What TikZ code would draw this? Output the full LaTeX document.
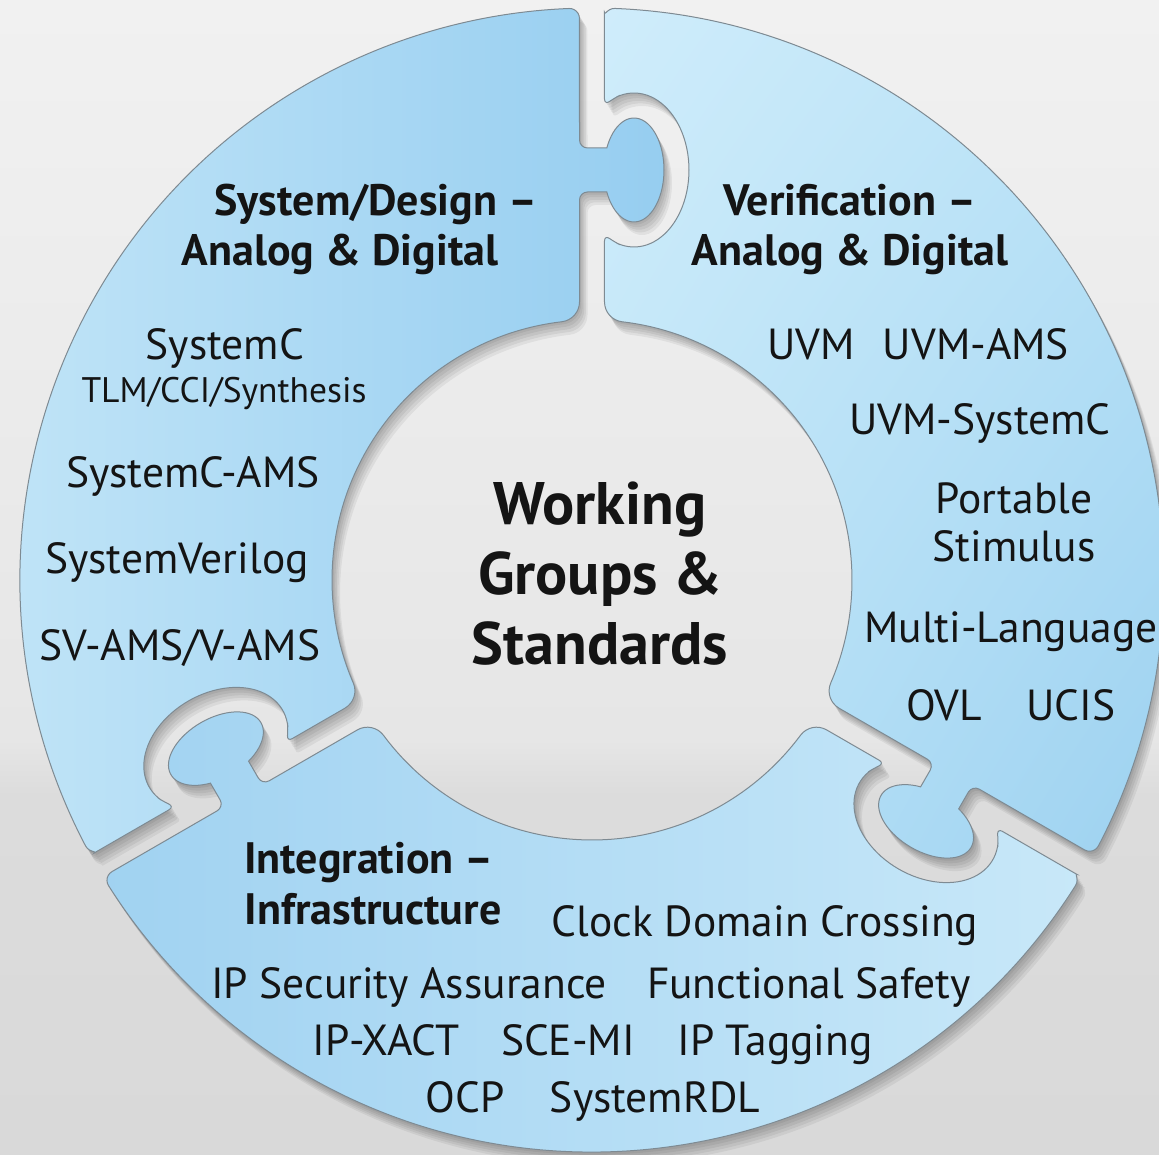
\documentclass[tikz,border=0pt]{standalone}
\usepackage{fontspec}
\setmainfont{PT Sans}
\usetikzlibrary{shadings}
\definecolor{bgA}{HTML}{F1F1F1}
\definecolor{bgB}{HTML}{E6E6E6}
\definecolor{bgC}{HTML}{DCDCDC}
\definecolor{bgD}{HTML}{D9D9D9}
\definecolor{edgeGray}{HTML}{7E8A92}
\definecolor{inkText}{HTML}{141414}
\definecolor{sdLight}{HTML}{C0E4F7}
\definecolor{sdDark}{HTML}{95CDF0}
\definecolor{veLight}{HTML}{D0EDFB}
\definecolor{veMid}{HTML}{BBE3F7}
\definecolor{veDark}{HTML}{9CD1F0}
\definecolor{inDark}{HTML}{A0D2F1}
\definecolor{inLight}{HTML}{CAE9F9}
\newcommand{\piecepath}{(12.5,278.11) [rounded corners=6] -- (12.5,345.0) -- (22.79,337.84) [sharp corners]
 -- plot[domain=251.56:468.44,samples=55] ({42+55*cos(\x)},{410+77*sin(\x)})
 [rounded corners=6] -- (22.79,482.16) -- (12.5,475.0) -- (12.5,561.55) [sharp corners] arc[start angle=180,end angle=87.706,radius=10]
 arc[start angle=87.706,end angle=-27.706,radius=572]
 arc[start angle=-27.706,end angle=-120,radius=10]
 -- (387.30,-209.18) arc[start angle=60,end angle=150,radius=8]
 -- (366.71,-228.83)
 -- plot[domain=-154.97:154.97,samples=61] ({-0.5*(42+30*cos(\x))+0.8660254*(410-52*sin(\x))},{-0.8660254*(42+30*cos(\x))-0.5*(410-52*sin(\x))})
 -- (338.26,-190.10) arc[start angle=-30,end angle=60,radius=8]
 -- (247.10,-128.23) arc[start angle=-120,end angle=-203.33,radius=20]
 arc[start angle=-23.33,end angle=83.33,radius=260]
 arc[start angle=263.33,end angle=180,radius=20] -- cycle}
\tikzset{
 reg/.style={font=\fontsize{43.5}{50}\selectfont, anchor=base, inner sep=0pt, text=inkText},
 small/.style={font=\fontsize{35.5}{40}\selectfont, anchor=base, inner sep=0pt, text=inkText},
 ttl/.style={font=\bfseries\fontsize{44}{50}\selectfont, anchor=base, inner sep=0pt, text=inkText},
 big/.style={font=\bfseries\fontsize{60}{66}\selectfont, anchor=base, inner sep=0pt, text=inkText},
 outline/.style={draw=edgeGray, line width=1pt},
 shadowfill/.style={fill=black, opacity=0.06}
}
\begin{document}
\begin{tikzpicture}[x=1pt,y=1pt]
\useasboundingbox (-592,580) rectangle (567,-575);
% background
\shade[top color=bgA, bottom color=bgB] (-592,580) rectangle (567,-160);
\shade[top color=bgB, bottom color=bgC] (-592,-160) rectangle (567,-215);
\shade[top color=bgC, bottom color=bgD] (-592,-215) rectangle (567,-575);
% shadows
\foreach \r in {0,120,240}{
 \foreach \s in {1,...,5}{
  \begin{scope}[shift={(1.6*\s,-2.6*\s)}]
   \begin{scope}[rotate=\r]
    \fill[shadowfill] \piecepath;
   \end{scope}
  \end{scope}
 }
}
% Verification piece
\begin{scope}
 \clip \piecepath;
 \shade[upper left=veLight, upper right=veMid, lower left=veMid, lower right=veDark] (0,590) rectangle (580,-300);
\end{scope}
\draw[outline] \piecepath;
% System/Design piece
\begin{scope}[rotate=120]
 \clip \piecepath;
 \begin{scope}[rotate=-120]
  \shade[left color=sdLight, right color=sdDark] (-590,590) rectangle (90,-300);
 \end{scope}
\end{scope}
\begin{scope}[rotate=120]
 \draw[outline] \piecepath;
\end{scope}
% Integration piece
\begin{scope}[rotate=240]
 \clip \piecepath;
 \begin{scope}[rotate=-240]
  \shade[left color=inDark, right color=inLight] (-500,-100) rectangle (540,-590);
 \end{scope}
\end{scope}
\begin{scope}[rotate=240]
 \draw[outline] \piecepath;
\end{scope}
% texts: System/Design
\node[ttl] (sdt1) at (-216,364) {System/Design –};
\node[ttl] (sdt2) at (-252,314) {Analog \& Digital};
\node[reg] (sc) at (-367,220) {SystemC};
\node[small] (tlm) at (-368,177) {TLM/CCI/Synthesis};
\node[reg] (sca) at (-399,92) {SystemC-AMS};
\node[reg] (sv) at (-415,6) {SystemVerilog};
\node[reg] (svams) at (-412,-81) {SV-AMS/V-AMS};
% center
\node[big] (c1) at (8,55) {Working};
\node[big] (c2) at (8,-15) {Groups \&};
\node[big] (c3) at (8,-85) {Standards};
% Verification
\node[ttl] (vt1) at (258,364) {Verification –};
\node[ttl] (vt2) at (258,314) {Analog \& Digital};
\node[reg] (uvm) at (219,220) {UVM};
\node[reg] (uvmams) at (384,220) {UVM-AMS};
\node[reg] (uvmsc) at (388,145) {UVM-SystemC};
\node[reg] (pss1) at (422,66) {Portable};
\node[reg] (pss2) at (422,18) {Stimulus};
\node[reg] (ml) at (419,-63) {Multi-Language};
\node[reg] (ovl) at (352,-141) {OVL};
\node[reg] (ucis) at (479,-141) {UCIS};
% Integration
\node[ttl] (it1) at (-223,-294) {Integration –};
\node[ttl] (it2) at (-219,-345) {Infrastructure};
\node[reg] (cdc) at (173,-357) {Clock Domain Crossing};
\node[reg] (ipsa) at (-183,-418) {IP Security Assurance};
\node[reg] (fs) at (217,-418) {Functional Safety};
\node[reg] (ipx) at (-206,-475) {IP-XACT};
\node[reg] (scemi) at (-24,-475) {SCE-MI};
\node[reg] (iptag) at (183,-475) {IP Tagging};
\node[reg] (ocp) at (-127,-532) {OCP};
\node[reg] (rdl) at (63,-532) {SystemRDL};
\end{tikzpicture}
\end{document}
